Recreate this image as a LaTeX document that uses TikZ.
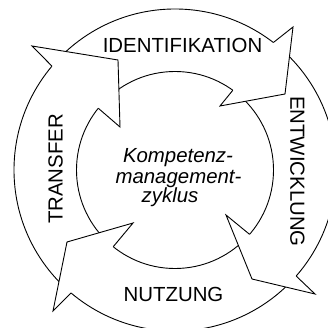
\documentclass[tikz,border=0pt]{standalone}
\usepackage{fontspec}
\setmainfont{Liberation Sans}
\usetikzlibrary{calc}
\begin{document}
\begin{tikzpicture}[x=1pt,y=-1pt,
  ring/.style={draw=black,line width=0.9pt},
  headline/.style={draw=black,line width=0.9pt,line join=miter},
  phase/.style={font=\fontsize{20.4}{20}\selectfont,inner sep=0pt,text=black},
  hub/.style={font=\fontsize{20.4}{20}\selectfont\itshape,inner sep=0pt,anchor=base,text=black}]
\useasboundingbox (0,0) rectangle (328,328);
\fill[white] (0,0) rectangle (328,328);
\clip (0,0) rectangle (328,328);

% centre of the cycle
\coordinate (C) at (175,170);

% the ring band: outer and inner edge
\draw[ring] (C) circle[radius=161pt];
\draw[ring] (C) circle[radius=98.5pt];

% arrow heads: base points on the ring, barbs and tip
\coordinate (h1on) at ($(C)+(-52.35:161)$);
\coordinate (h1in) at ($(C)+(-54.06:98.5)$);
\coordinate (h1ob) at (293,27);
\coordinate (h1tip) at (285,94);
\coordinate (h1ib) at (220,106);

\coordinate (h2on) at ($(C)+(41.19:161)$);
\coordinate (h2in) at ($(C)+(40.79:98.5)$);
\coordinate (h2ob) at (315,294);
\coordinate (h2tip) at (252,279);
\coordinate (h2ib) at (226,215);

\coordinate (h3on) at ($(C)+(130.22:161)$);
\coordinate (h3in) at ($(C)+(128.84:98.5)$);
\coordinate (h3ob) at (53,311);
\coordinate (h3tip) at (67,242);
\coordinate (h3ib) at (133,223);

\coordinate (h4on) at ($(C)+(-139.83:161)$);
\coordinate (h4in) at ($(C)+(-141.16:98.5)$);
\coordinate (h4ob) at (32,46);
\coordinate (h4tip) at (118,60);
\coordinate (h4ib) at (120,127);

\foreach \h in {h1,h2,h3,h4}{
  \fill[white] (\h on) -- (\h ob) -- (\h tip) -- (\h ib) -- (\h in) -- cycle;
  \draw[headline] (\h on) -- (\h ob) -- (\h tip) -- (\h ib) -- (\h in);
}

% phase labels
\node[phase] (ident) at (182.5,45) {IDENTIFIKATION};
\node[phase,rotate=-90] (entw) at (297.5,171.5) {ENTWICKLUNG};
\node[phase] (nutz) at (173.5,294.5) {NUTZUNG};
\node[phase,rotate=90] (trans) at (55.5,169) {TRANSFER};

% title in the middle
\node[hub] (hub1) at (178,163) {Kompetenz-};
\node[hub] (hub2) at (178.5,183) {management-};
\node[hub] (hub3) at (170,202) {zyklus};
\end{tikzpicture}
\end{document}
